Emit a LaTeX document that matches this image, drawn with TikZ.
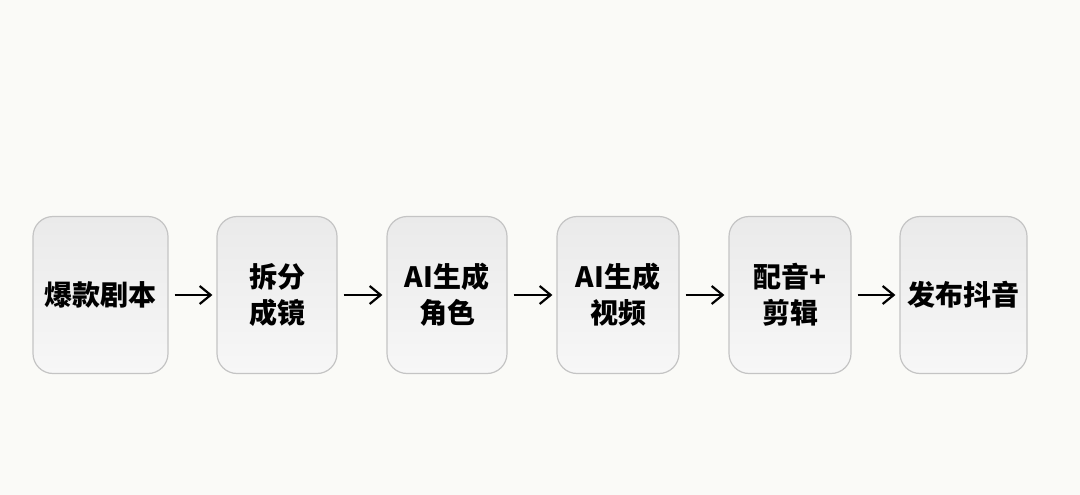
\documentclass[tikz,border=0pt]{standalone}
\usepackage{fontspec}
\newfontfamily\cjk{Noto Sans CJK SC}
\usetikzlibrary{arrows.meta}
\definecolor{bgc}{RGB}{250,250,247}
\definecolor{boxedge}{RGB}{196,196,196}
\definecolor{boxtop}{RGB}{234,234,234}
\definecolor{boxbot}{RGB}{247,247,247}
\tikzset{
  stepbox/.style={draw=boxedge, line width=1.2pt, rounded corners=20pt,
    top color=boxtop, bottom color=boxbot, minimum height=157pt,
    align=center, inner sep=0pt,
    font=\cjk\bfseries\fontsize{28}{36}\selectfont},
  flow/.style={line width=2.2pt, -{Straight Barb[length=11pt,width=18pt,line width=2.2pt]},
    shorten <=6pt, shorten >=4pt}
}
\begin{document}
\begin{tikzpicture}[x=1pt,y=-1pt]
\fill[bgc] (0,0) rectangle (1080,495);
\useasboundingbox (0,0) rectangle (1080,495);
\node[stepbox, minimum width=135pt] (a) at (100.5,295) {爆款剧本};
\node[stepbox, minimum width=120pt] (b) at (277,295) {拆分\\成镜};
\node[stepbox, minimum width=120pt] (c) at (447,295) {AI生成\\角色};
\node[stepbox, minimum width=122pt] (d) at (618,295) {AI生成\\视频};
\node[stepbox, minimum width=122pt] (e) at (790,295) {配音+\\剪辑};
\node[stepbox, minimum width=127pt] (f) at (963.5,295) {发布抖音};
\draw[flow] (a) -- (b);
\draw[flow] (b) -- (c);
\draw[flow] (c) -- (d);
\draw[flow] (d) -- (e);
\draw[flow] (e) -- (f);
\end{tikzpicture}
\end{document}
